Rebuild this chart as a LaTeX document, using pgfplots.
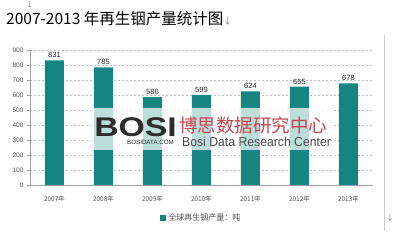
\documentclass[border=0pt]{standalone}
\usepackage{pgfplots}
\pgfplotsset{compat=1.18}
\usepackage{fontspec}
\setmainfont{Noto Sans CJK SC}
\newfontfamily\cjk{Noto Sans CJK SC}
\newfontfamily\latin{Liberation Sans}
\definecolor{barteal}{RGB}{20,133,128}
\definecolor{axisgray}{RGB}{160,160,160}
\definecolor{ticktext}{RGB}{80,80,80}
\definecolor{wmred}{RGB}{200,70,80}
\definecolor{wmdark}{RGB}{45,45,45}
\begin{document}
\begin{tikzpicture}[x=1pt,y=1pt]
% page frame
\useasboundingbox (0,0) rectangle (407,243);
% title line
\node[anchor=west,inner sep=0pt,font=\cjk\fontsize{15.5}{16}\selectfont] at (6,224)
  {2007-2013 年再生铟产量统计图\textcolor{gray}{\fontsize{9}{9}\selectfont↓}};
\node[text=gray,font=\fontsize{7}{7}\selectfont] at (30,238) {↓};
\node[text=gray,font=\fontsize{8}{8}\selectfont] at (390,26) {↓};
% right border of the chart area
\draw[color=black!20,line width=0.8pt] (384,208) -- (384,12);
\begin{axis}[
  at={(30pt,58pt)}, anchor=south west,
  scale only axis, width=343pt, height=135pt,
  xmin=-0.5, xmax=6.5, ymin=0, ymax=900,
  axis x line=bottom, axis y line=left,
  axis line style={axisgray,-},
  xtick={0,...,6},
  xticklabels={2007年,2008年,2009年,2010年,2011年,2012年,2013年},
  x tick label style={font=\cjk\fontsize{6.5}{7}\selectfont,text=ticktext,yshift=-4pt},
  major x tick style={draw=none},
  extra x ticks={-0.5,0.5,...,6.5},
  extra x tick labels={},
  extra x tick style={major tick length=3pt,tick align=outside,
    major tick style={axisgray},grid=none},
  ytick={0,100,...,900},
  y tick label style={font=\latin\fontsize{6.5}{7}\selectfont,text=ticktext},
  major tick length=3pt, tick align=outside,
  tick style={axisgray},
  ymajorgrids,
  major grid style={black!25,dash pattern=on 2pt off 2pt,line width=0.5pt},
  /pgf/number format/assume math mode=true,
  ybar, bar width=19pt,
  nodes near coords,
  nodes near coords style={font=\latin\fontsize{7.5}{8}\selectfont,text=black!85,yshift=-1pt},
  legend style={at={(0.5,-0.245)},anchor=center,draw=none,
    font=\cjk\fontsize{8}{9}\selectfont,text=ticktext},
]
\addplot[fill=barteal,draw=none,
  legend image code/.code={\fill[barteal] (0pt,-3pt) rectangle (6pt,3pt);}]
  coordinates {
  (0,831) (1,785) (2,586) (3,599) (4,624) (5,655) (6,678)};
\addlegendentry{全球再生铟产量：吨}
\end{axis}
% watermark band and text
\fill[white,opacity=0.72] (91,93) rectangle (334,135);
\node[anchor=base west,inner sep=0pt,text depth=0pt,text=wmdark,font=\latin\bfseries\fontsize{27}{27}\selectfont,xscale=1.25] at (94,106) {BOSI};
\node[anchor=west,inner sep=0pt,text=wmdark,font=\latin\fontsize{6.2}{7}\selectfont] at (127,100.5) {BOSIDATA.COM};
\node[anchor=west,inner sep=0pt,text=wmred,font=\cjk\fontsize{18.5}{19}\selectfont] at (179,118) {博思数据研究中心};
\node[anchor=west,inner sep=0pt,text=wmdark!85,font=\latin\fontsize{13}{14}\selectfont,xscale=0.94] at (182,101) {Bosi Data Research Center};
\end{tikzpicture}
\end{document}
